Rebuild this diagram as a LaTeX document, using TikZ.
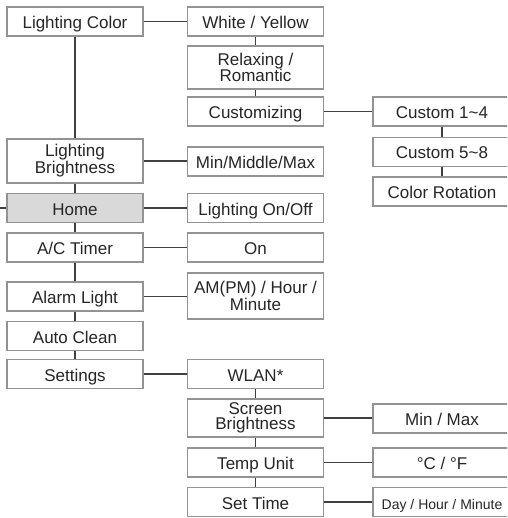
\documentclass[tikz,border=0pt]{standalone}
\usepackage{fontspec}
\setmainfont{Liberation Sans}
\begin{document}
\begin{tikzpicture}[x=1pt,y=-1pt,
  mbox/.style={draw=gray!85,line width=1.2pt,fill=white,text=black!85,
    minimum width=136pt,minimum height=29pt,inner sep=0pt,align=center,
    font=\fontsize{17}{15}\selectfont},
  box/.style={mbox,text height=14pt,text depth=0pt},
  homebox/.style={box,fill=gray!30},
  rbox/.style={box,minimum width=138pt},
  link/.style={draw=black!75,line width=1.4pt}]
  \useasboundingbox (0,0) rectangle (507,518);
  \clip (0,0) rectangle (507,518);
  % left column
  \node[box] (lc) at (75,21.5) {Lighting Color};
  \node[mbox,minimum height=44pt] (lb) at (75,161) {Lighting\\Brightness};
  \node[homebox] (home) at (75,208) {Home};
  \node[box] (ac) at (75,247.5) {A/C Timer};
  \node[box] (al) at (75,296.5) {Alarm Light};
  \node[box] (acl) at (75,336) {Auto Clean};
  \node[box] (set) at (75,374) {Settings};
  \coordinate (edge) at (0,208);
  % middle column
  \node[box] (wy) at (255.5,21.5) {White / Yellow};
  \node[mbox,minimum height=43pt] (rr) at (255.5,67.5) {Relaxing /\\Romantic};
  \node[box] (cu) at (255.5,111.5) {Customizing};
  \node[box] (mmm) at (255.5,161.5) {Min/Middle/Max};
  \node[box] (onoff) at (255.5,208) {Lighting On/Off};
  \node[box] (on) at (255.5,247.5) {On};
  \node[mbox,minimum height=46pt] (ampm) at (255.5,296) {AM(PM) / Hour /\\Minute};
  \node[box] (wlan) at (255.5,374) {WLAN*};
  \node[mbox,minimum height=38pt] (sb) at (255.5,418) {Screen\\Brightness};
  \node[box] (tu) at (255.5,462.5) {Temp Unit};
  \node[box] (st) at (255.5,502) {Set Time};
  % right column
  \node[rbox] (c14) at (442,111.5) {Custom 1\textasciitilde4};
  \node[rbox] (c58) at (442,152) {Custom 5\textasciitilde8};
  \node[rbox] (cr) at (442,191.5) {Color Rotation};
  \node[rbox] (mm) at (442,418.5) {Min / Max};
  \node[rbox] (deg) at (442,462.5) {°C / °F};
  \node[rbox,font=\fontsize{14}{15}\selectfont] (dhm) at (442,502) {Day / Hour / Minute};
  \foreach \a/\b in {lc/lb,lb/home,home/ac,ac/al,al/acl,acl/set,
      wy/rr,rr/cu,wlan/sb,sb/tu,tu/st,c14/c58,c58/cr}
    \draw[link] (\a.south) -- (\b.north);
  \foreach \a/\b in {lc/wy,cu/c14,lb/mmm,home/onoff,ac/on,al/ampm,
      set/wlan,sb/mm,tu/deg,st/dhm}
    \draw[link] (\a.east) -- (\a.east -| \b.west);
  \draw[link] (home.west) -- (edge);
\end{tikzpicture}
\end{document}
